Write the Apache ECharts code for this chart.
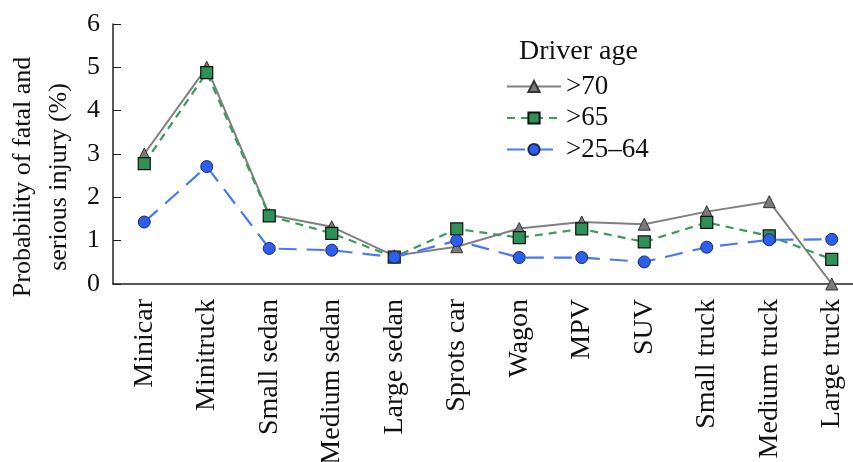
<!DOCTYPE html>
<html>
<head>
<meta charset="utf-8">
<script src="https://cdn.jsdelivr.net/npm/echarts@6/dist/echarts.min.js"></script>
<style>html,body{margin:0;padding:0;background:#fff;}#c{width:853px;height:462px;}</style>
</head>
<body>
<div id="c"></div>
<script>
var categories = ['Minicar','Minitruck','Small sedan','Medium sedan','Large sedan','Sprots car','Wagon','MPV','SUV','Small truck','Medium truck','Large truck'];
var over70 = [3.0, 5.0, 1.6, 1.32, 0.65, 0.86, 1.28, 1.43, 1.38, 1.67, 1.9, 0.0];
var over65 = [2.78, 4.88, 1.57, 1.17, 0.62, 1.27, 1.07, 1.27, 0.97, 1.42, 1.11, 0.57];
var age25to64 = [1.43, 2.71, 0.82, 0.78, 0.62, 1.0, 0.61, 0.61, 0.51, 0.85, 1.02, 1.03];
var yTicks = [0, 1, 2, 3, 4, 5, 6];
var seriesNames = ['>70', '>65', '>25\u201364'];
var yTitle = 'Probability of fatal and\nserious injury (%)';
var legendTitle = 'Driver age';

var font = 'Liberation Serif';
var chart = echarts.init(document.getElementById('c'));
chart.setOption({
  animation: false,
  backgroundColor: '#fff',
  textStyle: {fontFamily: font},
  title: {
    text: legendTitle, left: 519, top: 38, padding: 0,
    textStyle: {fontFamily: font, fontSize: 28, fontWeight: 'normal', color: '#111'}
  },
  legend: {
    orient: 'vertical', left: 506, top: 73, padding: 0, itemWidth: 54, itemHeight: 14, itemGap: 4.5,
    textStyle: {fontFamily: font, fontSize: 27, color: '#111', padding: [5,0,0,0]},
    data: seriesNames
  },
  graphic: [{
    type: 'text', x: 41, y: 177, rotation: Math.PI / 2,
    style: {text: yTitle, fontFamily: font, fontSize: 26, fill: '#111', align: 'center', verticalAlign: 'middle', lineHeight: 36}
  }],
  grid: {left: 113, top: 24, width: 750, height: 260, outerBoundsMode: 'none', containLabel: false},
  xAxis: {
    type: 'category', data: categories, boundaryGap: true,
    axisLine: {lineStyle: {color: '#222', width: 1.5}},
    axisTick: {inside: true, length: 6, lineStyle: {color: '#222'}},
    axisLabel: {rotate: 90, fontFamily: font, fontSize: 28, color: '#111', margin: 15, interval: 0}
  },
  yAxis: {
    type: 'value', min: yTicks[0], max: yTicks[yTicks.length-1], interval: 1,
    splitLine: {show: false},
    axisLine: {show: true, lineStyle: {color: '#222', width: 1.5}},
    axisTick: {show: true, inside: true, length: 8, lineStyle: {color: '#222'}},
    axisLabel: {fontFamily: font, fontSize: 26, color: '#111', margin: 13}
  },
  series: [
    {name: seriesNames[0], type: 'line', data: over70, symbol: 'triangle', symbolSize: 12, z: 3,
     lineStyle: {color: '#808080', width: 2, type: 'solid'},
     itemStyle: {color: '#7a7a7a', borderColor: '#333', borderWidth: 1}},
    {name: seriesNames[1], type: 'line', data: over65, symbol: 'rect', symbolSize: 12, z: 4,
     lineStyle: {color: '#3c9a60', width: 2.2, type: [8, 6]},
     itemStyle: {color: '#2e9258', borderColor: '#111', borderWidth: 1.2}},
    {name: seriesNames[2], type: 'line', data: age25to64, symbol: 'circle', symbolSize: 12, z: 5,
     lineStyle: {color: '#4a78f0', width: 2.2, type: [18, 10]},
     itemStyle: {color: '#2c5ff0', borderColor: '#1a2a60', borderWidth: 1}}
  ]
});
</script>
</body>
</html>
